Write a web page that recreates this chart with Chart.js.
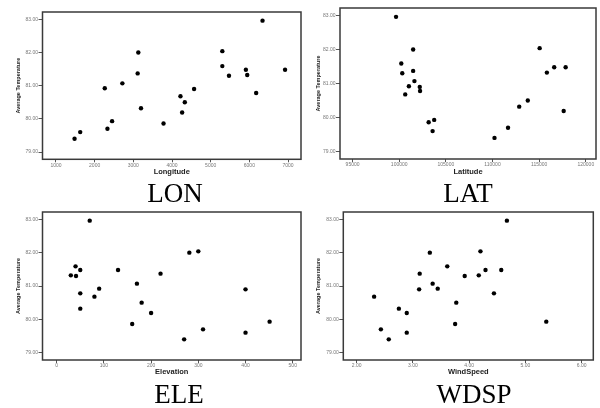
<!DOCTYPE html>
<html lang="en">
<head>
    <meta charset="UTF-8">
    <title>Average Temperature scatter plots</title>
    <script src="https://cdn.jsdelivr.net/npm/chart.js"></script>
    <style>
        body { margin: 0; background: #fff; }
        #wrap { position: relative; width: 600px; height: 408px; overflow: hidden; }
        .panel { position: absolute; }
        .cap {
            position: absolute; width: 200px; text-align: center;
            font-family: 'Liberation Serif', 'Times New Roman', serif;
            font-size: 27px; line-height: 27px; color: #000;
        }
    </style>
</head>
<body>
<div id="wrap">
    <div class="panel" style="left:0;top:0"><canvas id="cLon" width="305" height="180"></canvas></div>
    <div class="panel" style="left:300px;top:0"><canvas id="cLat" width="300" height="180"></canvas></div>
    <div class="panel" style="left:0;top:200px"><canvas id="cEle" width="305" height="180"></canvas></div>
    <div class="panel" style="left:300px;top:200px"><canvas id="cWdsp" width="300" height="180"></canvas></div>

    <div class="cap" style="left:75px;top:180px">LON</div>
    <div class="cap" style="left:368px;top:180px">LAT</div>
    <div class="cap" style="left:79px;top:381px">ELE</div>
    <div class="cap" style="left:374px;top:381px">WDSP</div>
</div>

<script>
    // 관측소별 값 (같은 순서)
    const avgTemp = [79.40, 79.60, 80.92, 79.70, 79.93, 81.07, 81.37, 82.00, 80.32, 79.86, 80.68,
                     80.19, 80.50, 80.90, 82.04, 81.59, 81.30, 81.48, 81.32, 80.78, 82.96, 81.48];
    const longitude = [1481, 1627, 2262, 2331, 2451, 2717, 3112, 3129, 3198, 3781, 4219,
                       4262, 4331, 4571, 5301, 5301, 5473, 5910, 5945, 6176, 6340, 6923];
    const latitude = [110212, 103580, 101038, 111663, 103750, 101631, 101494, 101494, 112860, 103157, 100646,
                      117627, 113782, 102203, 115053, 100222, 100328, 116610, 115826, 102235, 99661, 117839];
    const elevation = [270, 400, 90, 310, 451, 170, 220, 281, 50, 160, 80,
                       200, 180, 400, 300, 40, 41, 50, 30, 50, 70, 130];
    const windSpeed = [2.57, 2.89, 3.44, 2.43, 5.37, 3.35, 3.12, 3.30, 2.75, 3.75, 2.31,
                       2.89, 3.77, 3.11, 4.20, 3.61, 3.92, 4.29, 4.17, 4.44, 4.67, 4.57];

    // 눈금
    const tempTicks = [79, 80, 81, 82, 83];
    const lonTicks = [1000, 2000, 3000, 4000, 5000, 6000, 7000];
    const latTicks = [95000, 100000, 105000, 110000, 115000, 120000];
    const eleTicks = [0, 100, 200, 300, 400, 500];
    const wdspTicks = [2, 3, 4, 5, 6];

    const FONT = "'Liberation Sans', Arial, sans-serif";

    // 차트 영역 테두리
    const framePlugin = {
        id: 'frame',
        beforeDatasetsDraw(chart) {
            const a = chart.chartArea, ctx = chart.ctx;
            ctx.save();
            ctx.strokeStyle = '#3a3a3a';
            ctx.lineWidth = 1.5;
            ctx.strokeRect(a.left, a.top, a.right - a.left, a.bottom - a.top);
            ctx.restore();
        }
    };

    function makeScatter(id, xs, xTicks, xTitle, xFmt, cfg) {
        const pts = xs.map((x, i) => ({x: x, y: avgTemp[i]}));
        new Chart(document.getElementById(id), {
            type: 'scatter',
            data: {
                datasets: [{
                    data: pts,
                    backgroundColor: '#000',
                    borderWidth: 0,
                    pointRadius: 2.2
                }]
            },
            options: {
                responsive: false,
                animation: false,
                layout: { padding: { left: 0, top: cfg.top, right: cfg.right, bottom: 0 } },
                plugins: { legend: { display: false }, tooltip: { enabled: false } },
                scales: {
                    x: {
                        type: 'linear',
                        min: cfg.xmin, max: cfg.xmax,
                        afterBuildTicks: s => { s.ticks = xTicks.map(v => ({value: v})); },
                        afterFit: s => { s.height = cfg.xh; },
                        grid: { drawOnChartArea: false, drawTicks: true, tickLength: 3, color: '#555' },
                        border: { display: false },
                        ticks: { font: { family: FONT, size: 5 }, color: '#777', padding: 0,
                                 maxRotation: 0, autoSkip: false, callback: xFmt },
                        title: { display: true, text: xTitle, color: '#222',
                                 font: { family: FONT, size: 7.5, weight: 'bold' },
                                 padding: { top: 0, bottom: 3.5 } }
                    },
                    y: {
                        min: 78.78, max: 83.22,
                        afterBuildTicks: s => { s.ticks = tempTicks.map(v => ({value: v})); },
                        afterFit: s => { s.width = cfg.yw; },
                        grid: { drawOnChartArea: false, drawTicks: true, tickLength: 4, color: '#555' },
                        border: { display: false },
                        ticks: { font: { family: FONT, size: 5 }, color: '#777', padding: 0.5,
                                 callback: v => v.toFixed(2) },
                        title: { display: true, text: 'Average Temperature', color: '#222',
                                 font: { family: FONT, size: 5.5, weight: 'bold' },
                                 padding: { top: 15, bottom: 0 } }
                    }
                }
            },
            plugins: [framePlugin]
        });
    }

    const intFmt = v => String(v);

    makeScatter('cLon', longitude, lonTicks, 'Longitude', intFmt,
        { xmin: 652, xmax: 7335, top: 12, right: 3, xh: 20.7, yw: 42.5 });
    makeScatter('cLat', latitude, latTicks, 'Latitude', intFmt,
        { xmin: 93655, xmax: 121091, top: 8, right: 1, xh: 21, yw: 40 });
    makeScatter('cEle', elevation, eleTicks, 'Elevation', intFmt,
        { xmin: -30, xmax: 517.5, top: 12, right: 3, xh: 20, yw: 42.5 });
    makeScatter('cWdsp', windSpeed, wdspTicks, 'WindSpeed', v => v.toFixed(2),
        { xmin: 1.762, xmax: 6.206, top: 12, right: 6.7, xh: 20, yw: 43.3 });
</script>
</body>
</html>
